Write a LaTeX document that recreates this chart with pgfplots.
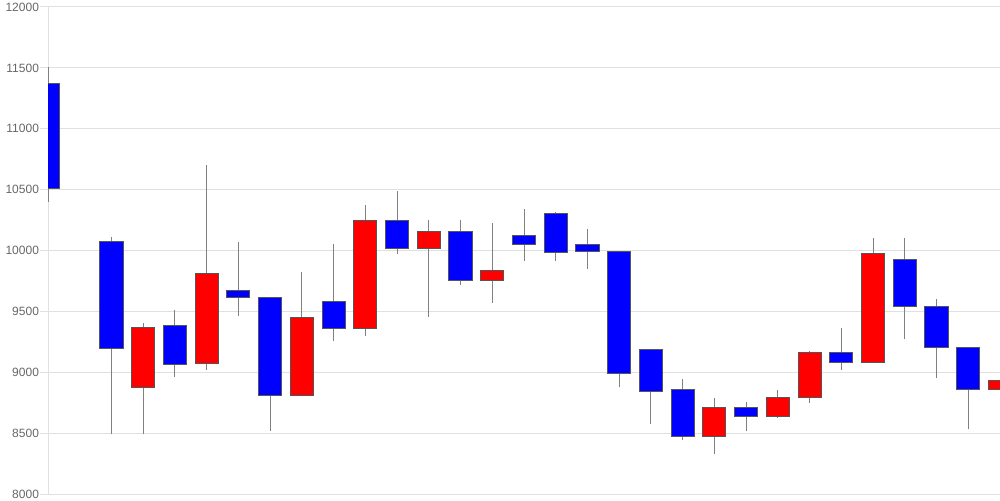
\documentclass[border=0pt]{standalone}
\usepackage{fontspec}
\setmainfont{Liberation Sans}
\usepackage{pgfplots}
\usepackage{pgfplotstable}
\pgfplotsset{compat=1.18}
\definecolor{gridc}{HTML}{E0E0E0}
\definecolor{labelc}{HTML}{666666}
\definecolor{wickc}{HTML}{808080}
\definecolor{boxc}{HTML}{555555}
\definecolor{upc}{HTML}{FF0000}
\definecolor{downc}{HTML}{0000FF}
% index, low, body bottom, body top, high, up (1 = red)
\pgfplotstableread{
i  low   bot   top   high  up
0  10400 10510 11375 11510 0
2  8495  9195  10075 10115 0
3  8495  8875  9365  9405  1
4  8965  9065  9385  9510  0
5  9020  9075  9810  10705 1
6  9460  9615  9675  10070 0
7  8520  8810  9615  9615  0
8  8810  8810  9450  9820  1
9  9255  9360  9580  10050 0
10 9300  9360  10250 10375 1
11 9970  10020 10250 10485 0
12 9455  10020 10155 10250 1
13 9720  9755  10155 10250 0
14 9570  9755  9835  10230 1
15 9915  10050 10120 10340 0
16 9915  9980  10305 10320 0
17 9850  9990  10050 10180 0
18 8875  8990  9990  9990  0
19 8575  8840  9185  9185  0
20 8440  8470  8860  8945  0
21 8325  8470  8710  8785  1
22 8520  8635  8710  8755  0
23 8625  8635  8795  8855  1
24 8750  8795  9165  9175  1
25 9020  9080  9165  9360  0
26 9080  9080  9975  10105 1
27 9275  9540  9925  10105 0
28 8950  9205  9540  9600  0
29 8530  8860  9205  9205  0
30 8750  8860  8935  8985  1
}\candles
\pgfplotsset{common/.style={
  scale only axis, width=714pt, height=365.25pt,
  xmin=0, xmax=30, ymin=8000, ymax=12000}}
\begin{document}
\begin{tikzpicture}
\begin{axis}[name=ax, common,
  axis x line=none, axis y line*=left,
  y axis line style={draw=gridc, line width=0.75pt, -},
  ytick={8000,8500,...,12000}, xtick=\empty,
  scaled y ticks=false,
  ymajorgrids, grid style={draw=gridc, line width=0.75pt},
  tick align=outside, major tick length=6pt,
  ytick style={draw=gridc, line width=0.75pt},
  yticklabel style={font=\fontsize{9}{10}\selectfont, text=labelc, inner sep=0.6pt},
  /pgf/number format/1000 sep={}, /pgf/number format/assume math mode=true]
\addplot[draw=none, mark=none,
  error bars/.cd, y dir=plus, y explicit,
  error mark=none, error bar style={draw=wickc, line width=0.75pt}]
  table[x=i, y=low, y error expr=\thisrow{high}-\thisrow{low}] {\candles};
\end{axis}
\begin{axis}[common, hide axis, ybar stacked, bar width=0.73, bar shift=0pt]
\addplot[draw=none, fill=none] table[x=i, y=bot] {\candles};
\addplot[draw=boxc, line width=0.75pt, fill=downc]
  table[x=i, y expr={(1-\thisrow{up})*(\thisrow{top}-\thisrow{bot})}] {\candles};
\addplot[draw=boxc, line width=0.75pt, fill=upc]
  table[x=i, y expr={\thisrow{up}*(\thisrow{top}-\thisrow{bot})}] {\candles};
\end{axis}
\pgfresetboundingbox
\path ([shift={(-36pt,-4.5pt)}]ax.south west) rectangle ([shift={(0pt,5.25pt)}]ax.north east);
\end{tikzpicture}
\end{document}
